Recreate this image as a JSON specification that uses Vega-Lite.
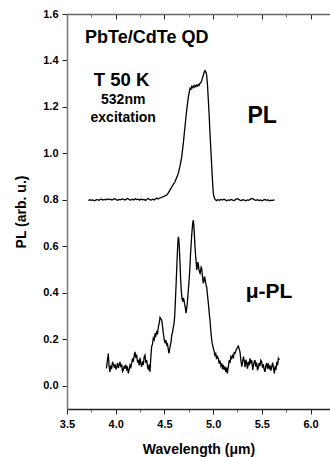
{
  "$schema": "https://vega.github.io/schema/vega-lite/v6.json",
  "width": 263,
  "height": 395,
  "autosize": {"type": "none"},
  "padding": {"left": 67, "top": 14, "right": 0, "bottom": 48},
  "background": "white",
  "config": {
    "view": {"stroke": null},
    "axis": {
      "labelFont": "Liberation Sans",
      "titleFont": "Liberation Sans",
      "labelFontWeight": "bold",
      "titleFontWeight": "bold",
      "labelFontSize": 11,
      "titleFontSize": 14,
      "labelColor": "#000",
      "titleColor": "#000",
      "domainColor": "#555",
      "domainWidth": 1.5,
      "tickWidth": 1,
      "grid": false
    },
    "text": {"font": "Liberation Sans", "fontWeight": "bold", "color": "#000"}
  },
  "datasets": {
    "pl": [
      {"w": 3.72, "v": 0.797}, {"w": 3.735, "v": 0.801}, {"w": 3.75, "v": 0.798}, {"w": 3.765, "v": 0.8}, {"w": 3.78, "v": 0.796},
      {"w": 3.795, "v": 0.799}, {"w": 3.81, "v": 0.802}, {"w": 3.825, "v": 0.798}, {"w": 3.84, "v": 0.801}, {"w": 3.855, "v": 0.803},
      {"w": 3.87, "v": 0.799}, {"w": 3.885, "v": 0.802}, {"w": 3.9, "v": 0.8}, {"w": 3.915, "v": 0.804}, {"w": 3.93, "v": 0.801},
      {"w": 3.945, "v": 0.803}, {"w": 3.96, "v": 0.799}, {"w": 3.975, "v": 0.802}, {"w": 3.99, "v": 0.805}, {"w": 4.005, "v": 0.801},
      {"w": 4.02, "v": 0.798}, {"w": 4.035, "v": 0.802}, {"w": 4.05, "v": 0.8}, {"w": 4.065, "v": 0.804}, {"w": 4.08, "v": 0.802},
      {"w": 4.095, "v": 0.799}, {"w": 4.11, "v": 0.803}, {"w": 4.125, "v": 0.806}, {"w": 4.14, "v": 0.801}, {"w": 4.155, "v": 0.799},
      {"w": 4.17, "v": 0.803}, {"w": 4.185, "v": 0.8}, {"w": 4.2, "v": 0.805}, {"w": 4.215, "v": 0.801}, {"w": 4.23, "v": 0.803},
      {"w": 4.245, "v": 0.799}, {"w": 4.26, "v": 0.804}, {"w": 4.275, "v": 0.8}, {"w": 4.29, "v": 0.802}, {"w": 4.305, "v": 0.798},
      {"w": 4.32, "v": 0.803}, {"w": 4.335, "v": 0.806}, {"w": 4.35, "v": 0.801}, {"w": 4.365, "v": 0.799}, {"w": 4.38, "v": 0.803},
      {"w": 4.395, "v": 0.8}, {"w": 4.41, "v": 0.805}, {"w": 4.425, "v": 0.807}, {"w": 4.44, "v": 0.805}, {"w": 4.455, "v": 0.808},
      {"w": 4.47, "v": 0.811}, {"w": 4.485, "v": 0.813}, {"w": 4.5, "v": 0.816}, {"w": 4.51, "v": 0.818}, {"w": 4.524, "v": 0.821},
      {"w": 4.54, "v": 0.83}, {"w": 4.557, "v": 0.842}, {"w": 4.575, "v": 0.855}, {"w": 4.59, "v": 0.866}, {"w": 4.609, "v": 0.878},
      {"w": 4.625, "v": 0.895}, {"w": 4.643, "v": 0.914}, {"w": 4.66, "v": 0.945}, {"w": 4.678, "v": 0.986}, {"w": 4.694, "v": 1.043},
      {"w": 4.711, "v": 1.115}, {"w": 4.729, "v": 1.187}, {"w": 4.746, "v": 1.244}, {"w": 4.763, "v": 1.28}, {"w": 4.772, "v": 1.276},
      {"w": 4.78, "v": 1.288}, {"w": 4.788, "v": 1.283}, {"w": 4.797, "v": 1.29}, {"w": 4.806, "v": 1.285}, {"w": 4.815, "v": 1.293},
      {"w": 4.823, "v": 1.288}, {"w": 4.832, "v": 1.294}, {"w": 4.84, "v": 1.29}, {"w": 4.849, "v": 1.297}, {"w": 4.857, "v": 1.293},
      {"w": 4.866, "v": 1.302}, {"w": 4.875, "v": 1.305}, {"w": 4.884, "v": 1.315}, {"w": 4.892, "v": 1.327}, {"w": 4.9, "v": 1.337},
      {"w": 4.909, "v": 1.35}, {"w": 4.917, "v": 1.356}, {"w": 4.925, "v": 1.35}, {"w": 4.934, "v": 1.337}, {"w": 4.943, "v": 1.29},
      {"w": 4.951, "v": 1.23}, {"w": 4.96, "v": 1.16}, {"w": 4.968, "v": 1.086}, {"w": 4.977, "v": 1.015}, {"w": 4.986, "v": 0.943},
      {"w": 4.994, "v": 0.88}, {"w": 5.002, "v": 0.828}, {"w": 5.011, "v": 0.81}, {"w": 5.02, "v": 0.802}, {"w": 5.035, "v": 0.797},
      {"w": 5.05, "v": 0.801}, {"w": 5.065, "v": 0.798}, {"w": 5.08, "v": 0.802}, {"w": 5.095, "v": 0.799}, {"w": 5.11, "v": 0.803},
      {"w": 5.125, "v": 0.8}, {"w": 5.14, "v": 0.796}, {"w": 5.155, "v": 0.8}, {"w": 5.17, "v": 0.798}, {"w": 5.185, "v": 0.802},
      {"w": 5.2, "v": 0.799}, {"w": 5.215, "v": 0.797}, {"w": 5.23, "v": 0.801}, {"w": 5.245, "v": 0.805}, {"w": 5.26, "v": 0.803},
      {"w": 5.275, "v": 0.799}, {"w": 5.29, "v": 0.797}, {"w": 5.305, "v": 0.801}, {"w": 5.32, "v": 0.799}, {"w": 5.335, "v": 0.796},
      {"w": 5.35, "v": 0.8}, {"w": 5.365, "v": 0.798}, {"w": 5.38, "v": 0.802}, {"w": 5.395, "v": 0.806}, {"w": 5.41, "v": 0.804},
      {"w": 5.425, "v": 0.8}, {"w": 5.44, "v": 0.798}, {"w": 5.455, "v": 0.801}, {"w": 5.47, "v": 0.797}, {"w": 5.485, "v": 0.8},
      {"w": 5.5, "v": 0.796}, {"w": 5.515, "v": 0.799}, {"w": 5.53, "v": 0.802}, {"w": 5.545, "v": 0.798}, {"w": 5.56, "v": 0.801},
      {"w": 5.575, "v": 0.796}, {"w": 5.59, "v": 0.799}, {"w": 5.605, "v": 0.797}, {"w": 5.62, "v": 0.8}, {"w": 5.63, "v": 0.798}
    ],
    "mupl": [
      {"w": 3.905, "v": 0.075}, {"w": 3.915, "v": 0.11}, {"w": 3.924, "v": 0.139}, {"w": 3.932, "v": 0.085}, {"w": 3.941, "v": 0.06},
      {"w": 3.95, "v": 0.088}, {"w": 3.958, "v": 0.072}, {"w": 3.967, "v": 0.1}, {"w": 3.976, "v": 0.096}, {"w": 3.985, "v": 0.078},
      {"w": 3.993, "v": 0.092}, {"w": 4.002, "v": 0.07}, {"w": 4.01, "v": 0.082}, {"w": 4.019, "v": 0.098}, {"w": 4.027, "v": 0.076},
      {"w": 4.036, "v": 0.09}, {"w": 4.044, "v": 0.103}, {"w": 4.053, "v": 0.08}, {"w": 4.061, "v": 0.092}, {"w": 4.07, "v": 0.062},
      {"w": 4.078, "v": 0.068}, {"w": 4.087, "v": 0.086}, {"w": 4.095, "v": 0.074}, {"w": 4.104, "v": 0.09}, {"w": 4.113, "v": 0.07},
      {"w": 4.121, "v": 0.078}, {"w": 4.13, "v": 0.053}, {"w": 4.139, "v": 0.072}, {"w": 4.147, "v": 0.09}, {"w": 4.156, "v": 0.08},
      {"w": 4.164, "v": 0.096}, {"w": 4.173, "v": 0.118}, {"w": 4.181, "v": 0.104}, {"w": 4.19, "v": 0.13}, {"w": 4.198, "v": 0.146},
      {"w": 4.207, "v": 0.12}, {"w": 4.215, "v": 0.134}, {"w": 4.224, "v": 0.1}, {"w": 4.232, "v": 0.111}, {"w": 4.241, "v": 0.088},
      {"w": 4.25, "v": 0.12}, {"w": 4.258, "v": 0.095}, {"w": 4.267, "v": 0.082}, {"w": 4.275, "v": 0.105}, {"w": 4.284, "v": 0.09},
      {"w": 4.292, "v": 0.124}, {"w": 4.301, "v": 0.132}, {"w": 4.31, "v": 0.098}, {"w": 4.318, "v": 0.11}, {"w": 4.327, "v": 0.082},
      {"w": 4.335, "v": 0.068}, {"w": 4.344, "v": 0.092}, {"w": 4.352, "v": 0.06}, {"w": 4.36, "v": 0.12}, {"w": 4.369, "v": 0.168},
      {"w": 4.378, "v": 0.18}, {"w": 4.386, "v": 0.205}, {"w": 4.395, "v": 0.198}, {"w": 4.404, "v": 0.226}, {"w": 4.412, "v": 0.215},
      {"w": 4.421, "v": 0.232}, {"w": 4.43, "v": 0.225}, {"w": 4.438, "v": 0.254}, {"w": 4.447, "v": 0.27}, {"w": 4.455, "v": 0.294},
      {"w": 4.464, "v": 0.288}, {"w": 4.472, "v": 0.283}, {"w": 4.481, "v": 0.255}, {"w": 4.489, "v": 0.225}, {"w": 4.498, "v": 0.2},
      {"w": 4.506, "v": 0.183}, {"w": 4.515, "v": 0.196}, {"w": 4.524, "v": 0.175}, {"w": 4.532, "v": 0.18}, {"w": 4.54, "v": 0.155},
      {"w": 4.547, "v": 0.139}, {"w": 4.555, "v": 0.162}, {"w": 4.562, "v": 0.175}, {"w": 4.569, "v": 0.192}, {"w": 4.575, "v": 0.218},
      {"w": 4.583, "v": 0.23}, {"w": 4.591, "v": 0.25}, {"w": 4.599, "v": 0.269}, {"w": 4.606, "v": 0.3}, {"w": 4.612, "v": 0.36},
      {"w": 4.619, "v": 0.426}, {"w": 4.626, "v": 0.5}, {"w": 4.633, "v": 0.57}, {"w": 4.638, "v": 0.615}, {"w": 4.643, "v": 0.641},
      {"w": 4.648, "v": 0.63}, {"w": 4.653, "v": 0.598}, {"w": 4.66, "v": 0.53}, {"w": 4.667, "v": 0.455}, {"w": 4.674, "v": 0.405},
      {"w": 4.681, "v": 0.376}, {"w": 4.688, "v": 0.362}, {"w": 4.695, "v": 0.378}, {"w": 4.701, "v": 0.369}, {"w": 4.708, "v": 0.35},
      {"w": 4.715, "v": 0.335}, {"w": 4.722, "v": 0.312}, {"w": 4.728, "v": 0.33}, {"w": 4.735, "v": 0.355}, {"w": 4.742, "v": 0.392},
      {"w": 4.749, "v": 0.43}, {"w": 4.756, "v": 0.469}, {"w": 4.763, "v": 0.52}, {"w": 4.768, "v": 0.565}, {"w": 4.773, "v": 0.598},
      {"w": 4.779, "v": 0.64}, {"w": 4.785, "v": 0.672}, {"w": 4.79, "v": 0.699}, {"w": 4.797, "v": 0.713}, {"w": 4.802, "v": 0.69},
      {"w": 4.807, "v": 0.656}, {"w": 4.814, "v": 0.6}, {"w": 4.821, "v": 0.555}, {"w": 4.827, "v": 0.53}, {"w": 4.832, "v": 0.498},
      {"w": 4.838, "v": 0.515}, {"w": 4.843, "v": 0.532}, {"w": 4.849, "v": 0.52}, {"w": 4.855, "v": 0.5}, {"w": 4.86, "v": 0.49},
      {"w": 4.866, "v": 0.484}, {"w": 4.872, "v": 0.495}, {"w": 4.877, "v": 0.51}, {"w": 4.883, "v": 0.505}, {"w": 4.889, "v": 0.478},
      {"w": 4.895, "v": 0.455}, {"w": 4.9, "v": 0.441}, {"w": 4.906, "v": 0.452}, {"w": 4.911, "v": 0.47}, {"w": 4.917, "v": 0.462},
      {"w": 4.923, "v": 0.445}, {"w": 4.928, "v": 0.432}, {"w": 4.934, "v": 0.426}, {"w": 4.94, "v": 0.4}, {"w": 4.945, "v": 0.38},
      {"w": 4.951, "v": 0.355}, {"w": 4.957, "v": 0.33}, {"w": 4.962, "v": 0.305}, {"w": 4.968, "v": 0.283}, {"w": 4.974, "v": 0.25},
      {"w": 4.98, "v": 0.22}, {"w": 4.986, "v": 0.197}, {"w": 4.992, "v": 0.18}, {"w": 4.997, "v": 0.172}, {"w": 5.002, "v": 0.161},
      {"w": 5.01, "v": 0.15}, {"w": 5.018, "v": 0.132}, {"w": 5.027, "v": 0.139}, {"w": 5.035, "v": 0.115}, {"w": 5.043, "v": 0.126},
      {"w": 5.054, "v": 0.118}, {"w": 5.062, "v": 0.095}, {"w": 5.07, "v": 0.108}, {"w": 5.08, "v": 0.085}, {"w": 5.089, "v": 0.096},
      {"w": 5.097, "v": 0.072}, {"w": 5.105, "v": 0.09}, {"w": 5.114, "v": 0.068}, {"w": 5.122, "v": 0.082}, {"w": 5.13, "v": 0.06},
      {"w": 5.138, "v": 0.078}, {"w": 5.146, "v": 0.053}, {"w": 5.155, "v": 0.08}, {"w": 5.166, "v": 0.111}, {"w": 5.174, "v": 0.098},
      {"w": 5.182, "v": 0.125}, {"w": 5.191, "v": 0.118}, {"w": 5.199, "v": 0.13}, {"w": 5.208, "v": 0.122}, {"w": 5.216, "v": 0.142},
      {"w": 5.225, "v": 0.139}, {"w": 5.233, "v": 0.15}, {"w": 5.242, "v": 0.158}, {"w": 5.25, "v": 0.165}, {"w": 5.259, "v": 0.171},
      {"w": 5.267, "v": 0.16}, {"w": 5.276, "v": 0.146}, {"w": 5.285, "v": 0.11}, {"w": 5.294, "v": 0.082}, {"w": 5.302, "v": 0.1},
      {"w": 5.311, "v": 0.125}, {"w": 5.32, "v": 0.108}, {"w": 5.328, "v": 0.08}, {"w": 5.337, "v": 0.112}, {"w": 5.345, "v": 0.096},
      {"w": 5.353, "v": 0.074}, {"w": 5.362, "v": 0.104}, {"w": 5.37, "v": 0.088}, {"w": 5.379, "v": 0.118}, {"w": 5.388, "v": 0.095},
      {"w": 5.397, "v": 0.11}, {"w": 5.407, "v": 0.068}, {"w": 5.415, "v": 0.09}, {"w": 5.422, "v": 0.102}, {"w": 5.43, "v": 0.111},
      {"w": 5.438, "v": 0.082}, {"w": 5.447, "v": 0.1}, {"w": 5.455, "v": 0.07}, {"w": 5.464, "v": 0.075}, {"w": 5.472, "v": 0.098},
      {"w": 5.481, "v": 0.085}, {"w": 5.49, "v": 0.11}, {"w": 5.499, "v": 0.103}, {"w": 5.507, "v": 0.078}, {"w": 5.516, "v": 0.092},
      {"w": 5.524, "v": 0.07}, {"w": 5.533, "v": 0.06}, {"w": 5.541, "v": 0.085}, {"w": 5.55, "v": 0.098}, {"w": 5.558, "v": 0.074},
      {"w": 5.567, "v": 0.096}, {"w": 5.576, "v": 0.07}, {"w": 5.584, "v": 0.088}, {"w": 5.593, "v": 0.065}, {"w": 5.602, "v": 0.082},
      {"w": 5.611, "v": 0.1}, {"w": 5.62, "v": 0.075}, {"w": 5.629, "v": 0.053}, {"w": 5.637, "v": 0.085}, {"w": 5.645, "v": 0.068},
      {"w": 5.653, "v": 0.103}, {"w": 5.662, "v": 0.088}, {"w": 5.67, "v": 0.118}, {"w": 5.68, "v": 0.111}
    ],
    "notes": [
      {"label": "PbTe/CdTe QD", "w": 3.686, "v": 1.497},
      {"label": "T 50 K", "w": 3.775, "v": 1.316},
      {"label": "532nm", "w": 4.077, "v": 1.23},
      {"label": "excitation", "w": 4.077, "v": 1.152},
      {"label": "PL", "w": 5.353, "v": 1.162},
      {"label": "μ-PL", "w": 5.335, "v": 0.405}
    ]
  },
  "resolve": {"axis": {"x": "independent"}},
  "layer": [
    {
      "data": {"name": "pl"},
      "mark": {"type": "line", "color": "#000", "strokeWidth": 1.3},
      "encoding": {
        "x": {"field": "w", "type": "quantitative",
          "scale": {"domain": [3.5, 6.2], "nice": false, "zero": false},
          "axis": {"orient": "bottom", "title": "Wavelength (μm)",
            "values": [3.5, 3.75, 4.0, 4.25, 4.5, 4.75, 5.0, 5.25, 5.5, 5.75, 6.0],
            "labelExpr": "round(datum.value*4) % 2 == 0 ? format(datum.value, '.1f') : ''",
            "tickSize": {"condition": {"test": "round(datum.value*4) % 2 == 0", "value": 5}, "value": 3},
            "tickColor": {"condition": {"test": "round(datum.value*4) % 2 == 0", "value": "#222"}, "value": "#666"},
            "labelPadding": 4, "titlePadding": 13, "domainColor": "#222", "labelFlush": false}},
        "y": {"field": "v", "type": "quantitative",
          "scale": {"domain": [-0.1, 1.6], "nice": false, "zero": false},
          "axis": {"orient": "left", "title": "PL (arb. u.)",
            "values": [0, 0.1, 0.2, 0.3, 0.4, 0.5, 0.6, 0.7, 0.8, 0.9, 1.0, 1.1, 1.2, 1.3, 1.4, 1.5, 1.6],
            "labelExpr": "round(datum.value*10) % 2 == 0 ? format(datum.value, '.1f') : ''",
            "tickSize": {"condition": {"test": "round(datum.value*10) % 2 == 0", "value": 5}, "value": 3},
            "tickColor": {"condition": {"test": "round(datum.value*10) % 2 == 0", "value": "#222"}, "value": "#666"},
            "labelPadding": 4, "titlePadding": 14, "domainColor": "#777", "labelFlush": false}}
      }
    },
    {
      "data": {"name": "mupl"},
      "mark": {"type": "line", "color": "#000", "strokeWidth": 1.3},
      "encoding": {
        "x": {"field": "w", "type": "quantitative",
          "scale": {"domain": [3.5, 6.2], "nice": false, "zero": false},
          "axis": {"orient": "top", "title": null, "labels": false,
            "values": [3.5, 3.75, 4.0, 4.25, 4.5, 4.75, 5.0, 5.25, 5.5, 5.75, 6.0],
            "tickSize": {"condition": {"test": "round(datum.value*4) % 2 == 0", "value": -5}, "value": -3},
            "tickColor": {"condition": {"test": "round(datum.value*4) % 2 == 0", "value": "#222"}, "value": "#777"},
            "domainColor": "#666"}},
        "y": {"field": "v", "type": "quantitative",
          "scale": {"domain": [-0.1, 1.6], "nice": false, "zero": false}}
      }
    },
    {
      "data": {"name": "notes"},
      "transform": [{"filter": "datum.label === 'PbTe/CdTe QD'"}],
      "mark": {"type": "text", "fontSize": 18, "align": "left", "baseline": "middle"},
      "encoding": {
        "text": {"field": "label"},
        "x": {"field": "w", "type": "quantitative", "scale": {"domain": [3.5, 6.2], "nice": false, "zero": false}, "axis": null},
        "y": {"field": "v", "type": "quantitative", "scale": {"domain": [-0.1, 1.6], "nice": false, "zero": false}}
      }
    },
    {
      "data": {"name": "notes"},
      "transform": [{"filter": "datum.label === 'T 50 K'"}],
      "mark": {"type": "text", "fontSize": 18.5, "align": "left", "baseline": "middle"},
      "encoding": {
        "text": {"field": "label"},
        "x": {"field": "w", "type": "quantitative", "scale": {"domain": [3.5, 6.2], "nice": false, "zero": false}, "axis": null},
        "y": {"field": "v", "type": "quantitative", "scale": {"domain": [-0.1, 1.6], "nice": false, "zero": false}}
      }
    },
    {
      "data": {"name": "notes"},
      "transform": [{"filter": "datum.label === '532nm' || datum.label === 'excitation'"}],
      "mark": {"type": "text", "fontSize": 14, "align": "center", "baseline": "middle"},
      "encoding": {
        "text": {"field": "label"},
        "x": {"field": "w", "type": "quantitative", "scale": {"domain": [3.5, 6.2], "nice": false, "zero": false}, "axis": null},
        "y": {"field": "v", "type": "quantitative", "scale": {"domain": [-0.1, 1.6], "nice": false, "zero": false}}
      }
    },
    {
      "data": {"name": "notes"},
      "transform": [{"filter": "datum.label === 'PL'"}],
      "mark": {"type": "text", "fontSize": 23, "align": "left", "baseline": "middle"},
      "encoding": {
        "text": {"field": "label"},
        "x": {"field": "w", "type": "quantitative", "scale": {"domain": [3.5, 6.2], "nice": false, "zero": false}, "axis": null},
        "y": {"field": "v", "type": "quantitative", "scale": {"domain": [-0.1, 1.6], "nice": false, "zero": false}}
      }
    },
    {
      "data": {"name": "notes"},
      "transform": [{"filter": "datum.label === 'μ-PL'"}],
      "mark": {"type": "text", "fontSize": 21, "align": "left", "baseline": "middle"},
      "encoding": {
        "text": {"field": "label"},
        "x": {"field": "w", "type": "quantitative", "scale": {"domain": [3.5, 6.2], "nice": false, "zero": false}, "axis": null},
        "y": {"field": "v", "type": "quantitative", "scale": {"domain": [-0.1, 1.6], "nice": false, "zero": false}}
      }
    }
  ]
}
